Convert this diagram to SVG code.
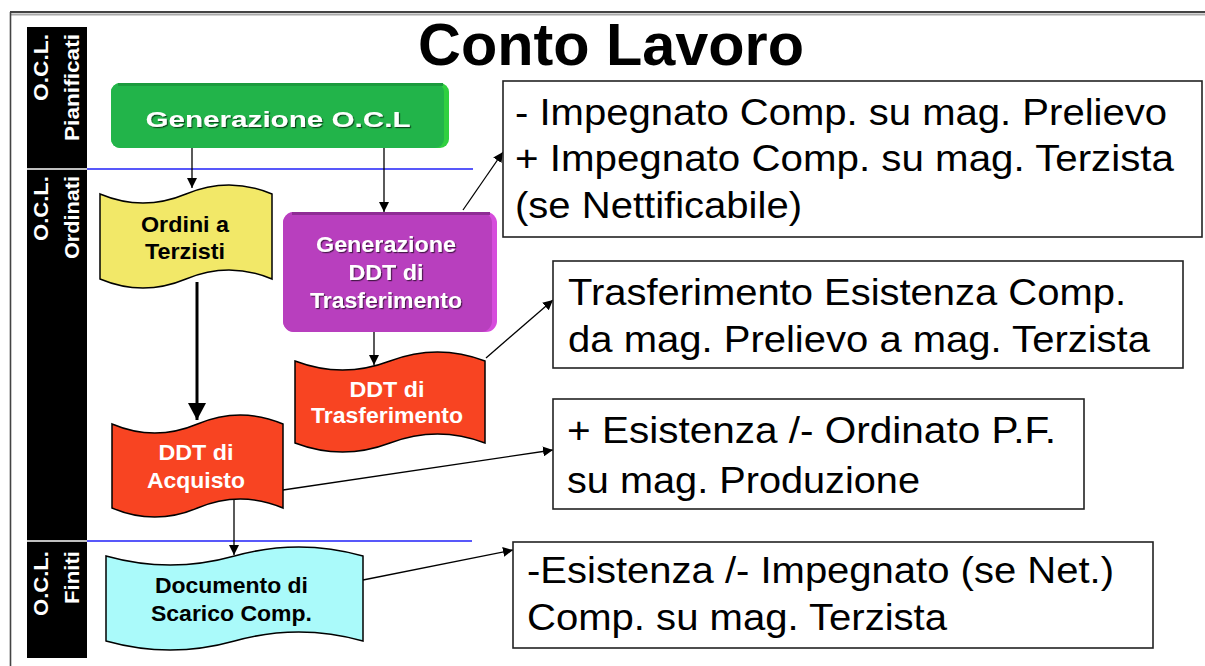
<svg xmlns="http://www.w3.org/2000/svg" width="1205" height="666" viewBox="0 0 1205 666">
<style>
text{font-family:"Liberation Sans",Arial,sans-serif}
.b{font-weight:bold}
.side{font-size:21px;font-weight:bold;fill:#fff}
.nodeW{font-size:22px;font-weight:bold;fill:#fff;text-anchor:middle}
.nodeK{font-size:22px;font-weight:bold;fill:#000;text-anchor:middle}
.note{font-size:37px;fill:#000}
.doc{stroke:#000;stroke-width:1.5}
.box{fill:#fff;stroke:#222;stroke-width:1.6}
.con{stroke:#000;stroke-width:1.3;fill:none;marker-end:url(#ah)}
</style>
<defs>
<marker id="ah" viewBox="0 0 10 10" refX="10" refY="5" markerWidth="10" markerHeight="10" markerUnits="userSpaceOnUse" orient="auto"><path d="M0,0 L10,5 L0,10 z" fill="#000"/></marker>
<marker id="ahBig" viewBox="0 0 17 18" refX="17" refY="9" markerWidth="17" markerHeight="18" markerUnits="userSpaceOnUse" orient="auto"><path d="M0,0 L17,9 L0,18 z" fill="#000"/></marker>
<filter id="sh" x="-10%" y="-20%" width="120%" height="140%"><feDropShadow dx="1.2" dy="1.2" stdDeviation="0.4" flood-color="#000" flood-opacity="0.6"/></filter>
</defs>
<rect width="1205" height="666" fill="#fff"/>
<g id="frame">
<line x1="10" y1="12" x2="1205" y2="12" stroke="#444" stroke-width="2"/>
<line x1="10" y1="14.5" x2="1205" y2="14.5" stroke="#aaa" stroke-width="2"/>
<line x1="10.5" y1="12" x2="10.5" y2="666" stroke="#444" stroke-width="1.6"/>
</g>
<g id="title"><text x="418" y="65" class="b" font-size="59" textLength="386" lengthAdjust="spacingAndGlyphs">Conto Lavoro</text></g>
<g id="lanes">
<rect x="27" y="27" width="60" height="631" fill="#000"/>
<line x1="27" y1="169" x2="87" y2="169" stroke="#fff" stroke-width="1.5"/>
<line x1="27" y1="541" x2="87" y2="541" stroke="#fff" stroke-width="1.5"/>
<line x1="87" y1="169" x2="473" y2="169" stroke="#2020f8" stroke-width="1.6"/>
<line x1="87" y1="541" x2="472" y2="541" stroke="#2020f8" stroke-width="1.6"/>
<text class="side" transform="translate(48,34) rotate(-90)" text-anchor="end" textLength="67" lengthAdjust="spacingAndGlyphs">O.C.L.</text>
<text class="side" transform="translate(79,34) rotate(-90)" text-anchor="end" textLength="107" lengthAdjust="spacingAndGlyphs">Pianificati</text>
<text class="side" transform="translate(48,176) rotate(-90)" text-anchor="end" textLength="65" lengthAdjust="spacingAndGlyphs">O.C.L.</text>
<text class="side" transform="translate(79,176) rotate(-90)" text-anchor="end" textLength="83" lengthAdjust="spacingAndGlyphs">Ordinati</text>
<text class="side" transform="translate(48,551) rotate(-90)" text-anchor="end" textLength="65" lengthAdjust="spacingAndGlyphs">O.C.L.</text>
<text class="side" transform="translate(79,551) rotate(-90)" text-anchor="end" textLength="53" lengthAdjust="spacingAndGlyphs">Finiti</text>
</g>
<g id="connectors">
<path class="con" d="M192,148 L192,188"/>
<path class="con" d="M384,148 L384,212"/>
<path d="M197,282 L197,420" stroke="#000" stroke-width="3" fill="none" marker-end="url(#ahBig)"/>
<path class="con" d="M374,332 L374,365"/>
<path class="con" d="M234,500 L234,555"/>
<path class="con" d="M463,210 L503,152"/>
<path class="con" d="M486,358 L553,300"/>
<path class="con" d="M283,490 L553,450"/>
<path class="con" d="M363,580 L513,550"/>
</g>
<g id="gen-ocl">
<rect x="111" y="83" width="338" height="65" rx="9" fill="#30d040"/>
<rect x="111" y="83" width="333" height="65" rx="9" fill="#22b44a"/>
<rect x="118" y="83" width="325" height="3" fill="#1c9a3e"/>
<text x="278" y="127" class="nodeW" font-size="28" textLength="265" lengthAdjust="spacingAndGlyphs" filter="url(#sh)">Generazione O.C.L</text>
</g>
<g id="ordini">
<path class="doc" fill="#f2e868" d="M100,194 Q143,212 186,194 T272,194 L272,279 Q229,261 186,279 T100,279 Z"/>
<text x="185" y="232" class="nodeK" textLength="88" lengthAdjust="spacingAndGlyphs">Ordini a</text>
<text x="185" y="259" class="nodeK" textLength="80" lengthAdjust="spacingAndGlyphs">Terzisti</text>
</g>
<g id="gen-ddt">
<rect x="283" y="212" width="214" height="120" rx="11" fill="#d64cdc"/>
<rect x="283" y="212" width="209" height="120" rx="11" fill="#b83fbe"/>
<rect x="292" y="212" width="198" height="3" fill="#8e2c94"/>
<text x="386" y="252" class="nodeW" textLength="140" lengthAdjust="spacingAndGlyphs" filter="url(#sh)">Generazione</text>
<text x="386" y="280" class="nodeW" textLength="75" lengthAdjust="spacingAndGlyphs" filter="url(#sh)">DDT di</text>
<text x="386" y="308" class="nodeW" textLength="152" lengthAdjust="spacingAndGlyphs" filter="url(#sh)">Trasferimento</text>
</g>
<g id="ddt-trasf">
<path class="doc" fill="#f84422" d="M295,361 Q342.5,379 390,361 T485,361 L485,443 Q437.5,425 390,443 T295,443 Z"/>
<text x="387" y="397" class="nodeW" textLength="75" lengthAdjust="spacingAndGlyphs">DDT di</text>
<text x="387" y="423" class="nodeW" textLength="152" lengthAdjust="spacingAndGlyphs">Trasferimento</text>
</g>
<g id="ddt-acq">
<path class="doc" fill="#f84422" d="M112,424 Q154.75,442 197.5,424 T283,424 L283,508 Q240.25,490 197.5,508 T112,508 Z"/>
<text x="196" y="460" class="nodeW" textLength="75" lengthAdjust="spacingAndGlyphs">DDT di</text>
<text x="196" y="488" class="nodeW" textLength="98" lengthAdjust="spacingAndGlyphs">Acquisto</text>
</g>
<g id="scarico">
<path class="doc" fill="#aafafa" d="M106,556 Q170.25,574 234.5,556 T363,556 L363,641 Q298.75,623 234.5,641 T106,641 Z"/>
<text x="231.5" y="593" class="nodeK" textLength="153" lengthAdjust="spacingAndGlyphs">Documento di</text>
<text x="231.5" y="621" class="nodeK" textLength="161" lengthAdjust="spacingAndGlyphs">Scarico Comp.</text>
</g>
<g id="note1">
<rect class="box" x="503" y="81" width="699" height="156"/>
<text class="note" x="515" y="125" textLength="652" lengthAdjust="spacingAndGlyphs">- Impegnato Comp. su mag. Prelievo</text>
<text class="note" x="515" y="171" textLength="659" lengthAdjust="spacingAndGlyphs">+ Impegnato Comp. su mag. Terzista</text>
<text class="note" x="515" y="218" textLength="287" lengthAdjust="spacingAndGlyphs">(se Nettificabile)</text>
</g>
<g id="note2">
<rect class="box" x="553" y="261" width="630" height="107"/>
<text class="note" x="568" y="305" textLength="558" lengthAdjust="spacingAndGlyphs">Trasferimento Esistenza Comp.</text>
<text class="note" x="568" y="352" textLength="582" lengthAdjust="spacingAndGlyphs">da mag. Prelievo a mag. Terzista</text>
</g>
<g id="note3">
<rect class="box" x="553" y="399" width="531" height="110"/>
<text class="note" x="567" y="443" textLength="489" lengthAdjust="spacingAndGlyphs">+ Esistenza /- Ordinato P.F.</text>
<text class="note" x="567" y="493" textLength="353" lengthAdjust="spacingAndGlyphs">su mag. Produzione</text>
</g>
<g id="note4">
<rect class="box" x="513" y="542" width="640" height="106"/>
<text class="note" x="527" y="583" textLength="587" lengthAdjust="spacingAndGlyphs">-Esistenza /- Impegnato (se Net.)</text>
<text class="note" x="527" y="630" textLength="420" lengthAdjust="spacingAndGlyphs">Comp. su mag. Terzista</text>
</g>
</svg>
